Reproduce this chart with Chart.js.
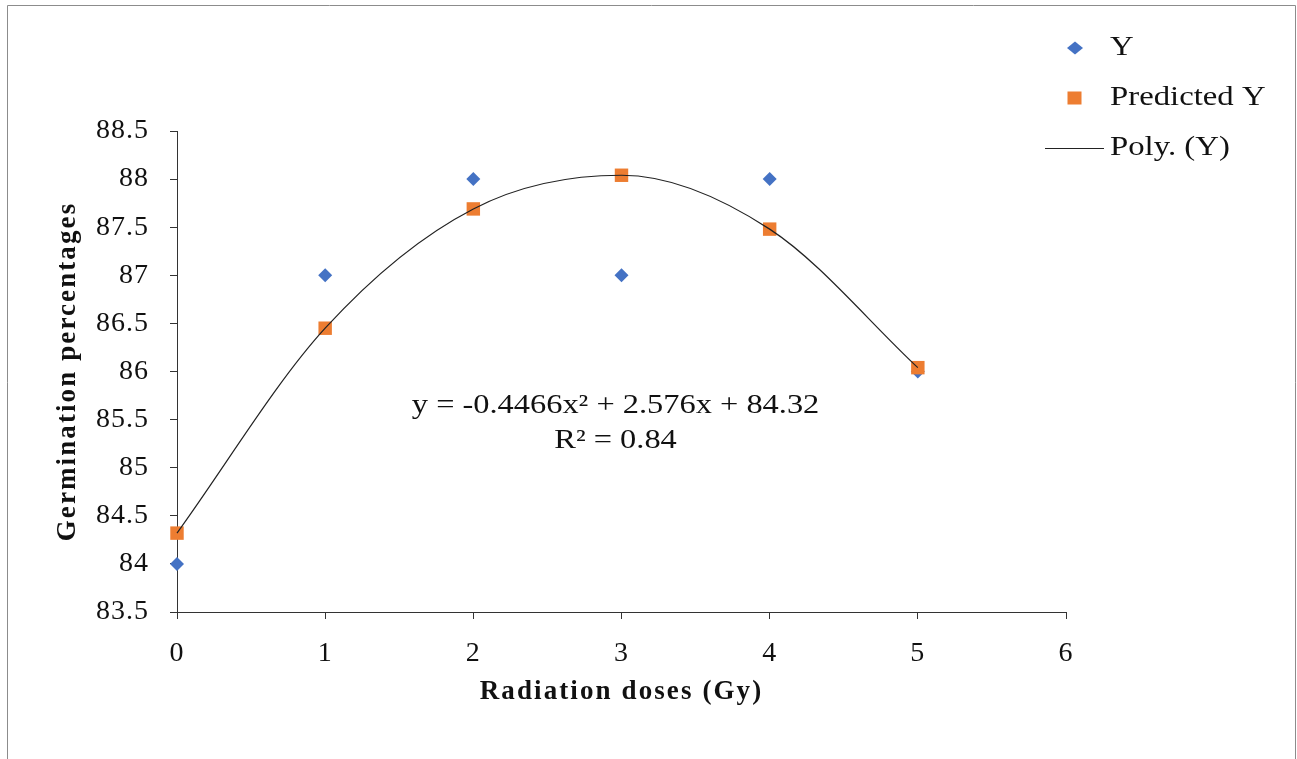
<!DOCTYPE html>
<html>
<head>
<meta charset="utf-8">
<script src="https://cdn.jsdelivr.net/npm/chart.js@4"></script>
<style>
  html, body { margin: 0; padding: 0; background: #fff; }
  #wrap { width: 1297px; height: 759px; position: relative; }
</style>
</head>
<body>
<div id="wrap"><canvas id="chart_germination"></canvas></div>
<script>
// doses (Gy)
var doses = [0, 1, 2, 3, 4, 5];
// observed germination %
var observedY = [84, 87, 88, 87, 88, 86];
// fitted values from the polynomial trendline
var predictedY = [84.32, 86.45, 87.69, 88.04, 87.48, 86.04];
var yTickLabels = ['83.5', '84', '84.5', '85', '85.5', '86', '86.5', '87', '87.5', '88', '88.5'];
var xTickLabels = ['0', '1', '2', '3', '4', '5', '6'];
var equationText = ['y = -0.4466x\u00B2 + 2.576x + 84.32', 'R\u00B2 = 0.84'];
var legendLabels = ['Y', 'Predicted Y', 'Poly. (Y)'];

var BLUE = '#4472C4';
var ORANGE = '#ED7D31';
var SERIF = '"Liberation Serif", "Times New Roman", serif';

function pts(ys) {
  return doses.map(function (d, i) { return { x: d, y: ys[i] }; });
}

// text a bit wider than the font, like the original export
function wideText(ctx, text, x, y, sx) {
  ctx.save();
  ctx.translate(x, y);
  ctx.scale(sx, 1);
  ctx.fillText(text, 0, 0);
  ctx.restore();
}

var chart_germination = new Chart(document.getElementById('chart_germination'), {
    type: 'scatter',
    data: {
        datasets: [
            {
                label: legendLabels[2],
                type: 'line',
                data: pts(predictedY),
                borderColor: '#222',
                borderWidth: 1.2,
                pointRadius: 0,
                cubicInterpolationMode: 'monotone',
                fill: false,
                clip: false,
                order: 0
            },
            {
                label: legendLabels[1],
                data: pts(predictedY),
                pointStyle: 'rect',
                pointRadius: 9.5,
                backgroundColor: ORANGE,
                borderColor: ORANGE,
                borderWidth: 0,
                clip: false,
                order: 1
            },
            {
                label: legendLabels[0],
                data: pts(observedY),
                pointStyle: 'rectRot',
                pointRadius: 7,
                backgroundColor: BLUE,
                borderColor: BLUE,
                borderWidth: 0,
                clip: false,
                order: 2
            }
        ]
    },
    options: {
        animation: false,
        responsive: true,
        maintainAspectRatio: false,
        layout: {
            padding: { left: 0, right: 231, top: 131, bottom: 0 }
        },
        plugins: {
            legend: { display: false },
            tooltip: { enabled: false }
        },
        scales: {
            x: {
                type: 'linear',
                min: 0,
                max: 6,
                afterFit: function (scale) { scale.height = 147; },
                grid: { display: true, drawOnChartArea: false, drawTicks: true, tickLength: 7, color: '#333' },
                border: { display: true, color: '#333', width: 1 },
                ticks: {
                    z: 1,
                    stepSize: 1,
                    padding: 18,
                    color: '#111',
                    font: { family: SERIF, size: 28 },
                    callback: function (v, i) { return xTickLabels[i]; }
                },
                title: {
                    display: true,
                    text: 'Radiation doses (Gy)',
                    color: '#111',
                    font: { family: SERIF, size: 27, weight: 'bold' },
                    padding: { top: 0, bottom: 51 }
                }
            },
            y: {
                type: 'linear',
                min: 83.5,
                max: 88.5,
                afterFit: function (scale) { scale.width = 177; },
                grid: { display: true, drawOnChartArea: false, drawTicks: true, tickLength: 7, color: '#333' },
                border: { display: true, color: '#333', width: 1 },
                ticks: {
                    z: 1,
                    stepSize: 0.5,
                    padding: 21,
                    color: '#111',
                    font: { family: SERIF, size: 28 },
                    callback: function (v, i) { return yTickLabels[i]; }
                },
                title: {
                    display: true,
                    text: 'Germination percentages',
                    color: '#111',
                    font: { family: SERIF, size: 27, weight: 'bold' },
                    padding: { top: 52, bottom: 0 }
                }
            }
        }
    },
    plugins: [{
        id: 'pageDecor',
        beforeDraw: function (chart) {
            var ctx = chart.ctx;
            ctx.save();
            ctx.fillStyle = 'white';
            ctx.fillRect(0, 0, chart.width, chart.height);
            // outer frame (no bottom edge, cropped)
            ctx.strokeStyle = '#8c8c8c';
            ctx.lineWidth = 1;
            ctx.beginPath();
            ctx.moveTo(7.5, chart.height);
            ctx.lineTo(7.5, 5.5);
            ctx.lineTo(1295.5, 5.5);
            ctx.lineTo(1295.5, chart.height);
            ctx.stroke();
            ctx.restore();
            // wide spacing of the axis titles
            ctx.letterSpacing = '2.1px';
        },
        beforeDatasetsDraw: function (chart) {
            chart.ctx.letterSpacing = '0px';
        },
        afterDatasetsDraw: function (chart) {
            // tick labels (z: 1) are drawn after this
            chart.ctx.letterSpacing = '1px';
        },
        afterDraw: function (chart) {
            var ctx = chart.ctx;
            var xs = chart.scales.x, ys = chart.scales.y;
            ctx.letterSpacing = '0px';
            ctx.save();
            // trendline equation
            ctx.fillStyle = '#111';
            ctx.font = '27px ' + SERIF;
            ctx.textAlign = 'center';
            ctx.textBaseline = 'middle';
            var ex = xs.getPixelForValue(2.96);
            wideText(ctx, equationText[0], ex, ys.getPixelForValue(85.64), 1.2);
            wideText(ctx, equationText[1], ex, ys.getPixelForValue(85.28), 1.2);

            // legend
            var ds = chart.data.datasets;
            ctx.font = '28px ' + SERIF;
            ctx.textAlign = 'left';
            var tx = 1110;
            var rows = [48, 98, 148];
            // Y
            ctx.fillStyle = ds[2].backgroundColor;
            ctx.beginPath();
            ctx.moveTo(1067, rows[0]); ctx.lineTo(1075, rows[0] - 6.5);
            ctx.lineTo(1083, rows[0]); ctx.lineTo(1075, rows[0] + 6.5);
            ctx.closePath(); ctx.fill();
            // Predicted Y
            ctx.fillStyle = ds[1].backgroundColor;
            ctx.fillRect(1067.5, rows[1] - 6.5, 14, 13);
            // Poly. (Y)
            ctx.strokeStyle = ds[0].borderColor;
            ctx.lineWidth = 1;
            ctx.beginPath();
            ctx.moveTo(1045, rows[2] + 0.5); ctx.lineTo(1104, rows[2] + 0.5);
            ctx.stroke();
            ctx.fillStyle = '#111';
            wideText(ctx, ds[2].label, tx, rows[0], 1.17);
            wideText(ctx, ds[1].label, tx, rows[1], 1.17);
            wideText(ctx, ds[0].label, tx, rows[2], 1.17);
            ctx.restore();
        }
    }]
});
</script>
</body>
</html>
